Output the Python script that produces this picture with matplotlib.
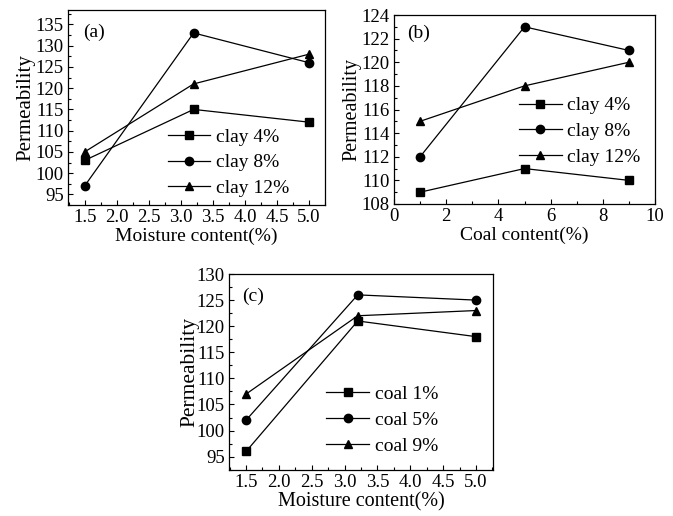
import matplotlib
matplotlib.use("Agg")
import matplotlib.pyplot as plt
from matplotlib.ticker import MultipleLocator, FormatStrFormatter

plt.rcParams['font.family'] = ['Liberation Serif', 'DejaVu Serif']

# Panel (a)
moist = [1.5, 3.2, 5.0]
a_labels = ['clay 4%', 'clay 8%', 'clay 12%']
a_clay4 = [103, 115, 112]
a_clay8 = [97, 133, 126]
a_clay12 = [105, 121, 128]

# Panel (b)
coal = [1, 5, 9]
b_labels = ['clay 4%', 'clay 8%', 'clay 12%']
b_clay4 = [109, 111, 110]
b_clay8 = [112, 123, 121]
b_clay12 = [115, 118, 120]

# Panel (c)
c_labels = ['coal 1%', 'coal 5%', 'coal 9%']
c_coal1 = [96, 121, 118]
c_coal5 = [102, 126, 125]
c_coal9 = [107, 122, 123]

W, H = 673, 516
fig = plt.figure(figsize=(W / 100, H / 100), dpi=100)

def ax_at(x0, y0, x1, y1):
    return fig.add_axes([x0 / W, 1 - y1 / H, (x1 - x0) / W, (y1 - y0) / H])

markers = ['s', 'o', '^']

def style(ax):
    ax.tick_params(which='both', direction='in', labelsize=13.5, top=False, right=False, pad=3)
    ax.tick_params(which='major', length=3.5, width=0.8)
    ax.tick_params(which='minor', length=2, width=0.8)
    for s in ax.spines.values():
        s.set_linewidth(0.9)

def draw(ax, x, series, labels):
    for y, m, l in zip(series, markers, labels):
        ax.plot(x, y, color='black', lw=0.9, marker=m, ms=6, label=l)

leg_kw = dict(frameon=False, fontsize=14, handlelength=2.2, handletextpad=0.3,
              labelspacing=0.42, borderaxespad=0.2)

# (a)
ax = ax_at(68, 10, 325, 205)
draw(ax, moist, [a_clay4, a_clay8, a_clay12], a_labels)
ax.set_xlim(1.24, 5.25)
ax.set_ylim(92.5, 138.4)
ax.xaxis.set_major_locator(MultipleLocator(0.5))
ax.xaxis.set_minor_locator(MultipleLocator(0.25))
ax.xaxis.set_major_formatter(FormatStrFormatter('%.1f'))
ax.yaxis.set_major_locator(MultipleLocator(5))
ax.yaxis.set_minor_locator(MultipleLocator(2.5))
style(ax)
ax.set_xlabel('Moisture content(%)', fontsize=14, labelpad=1)
ax.set_ylabel('Permeability', fontsize=15, labelpad=0)
ax.text(0.06, 0.93, '(a)', transform=ax.transAxes, fontsize=14, va='top')
ax.legend(loc='lower right', bbox_to_anchor=(0.907, -0.02), **leg_kw)

# (b)
ax = ax_at(394, 15, 655, 204)
draw(ax, coal, [b_clay4, b_clay8, b_clay12], b_labels)
ax.set_xlim(0, 10)
ax.set_ylim(108, 124)
ax.xaxis.set_major_locator(MultipleLocator(2))
ax.xaxis.set_minor_locator(MultipleLocator(1))
ax.yaxis.set_major_locator(MultipleLocator(2))
ax.yaxis.set_minor_locator(MultipleLocator(1))
style(ax)
ax.set_xlabel('Coal content(%)', fontsize=14, labelpad=1)
ax.set_ylabel('Permeability', fontsize=14.5, labelpad=0)
ax.text(0.05, 0.95, '(b)', transform=ax.transAxes, fontsize=14, va='top')
ax.legend(loc='lower right', bbox_to_anchor=(0.99, 0.14), **leg_kw)

# (c)
ax = ax_at(229, 274, 493, 470)
draw(ax, moist, [c_coal1, c_coal5, c_coal9], c_labels)
ax.set_xlim(1.24, 5.26)
ax.set_ylim(92.45, 130)
ax.xaxis.set_major_locator(MultipleLocator(0.5))
ax.xaxis.set_minor_locator(MultipleLocator(0.25))
ax.xaxis.set_major_formatter(FormatStrFormatter('%.1f'))
ax.yaxis.set_major_locator(MultipleLocator(5))
ax.yaxis.set_minor_locator(MultipleLocator(2.5))
style(ax)
ax.set_xlabel('Moisture content(%)', fontsize=14.5, labelpad=1)
ax.set_ylabel('Permeability', fontsize=15.5, labelpad=-2)
ax.text(0.05, 0.93, '(c)', transform=ax.transAxes, fontsize=14, va='top')
ax.legend(loc='lower right', bbox_to_anchor=(0.837, 0.018), **leg_kw)

fig.savefig('out.png', dpi=100)
